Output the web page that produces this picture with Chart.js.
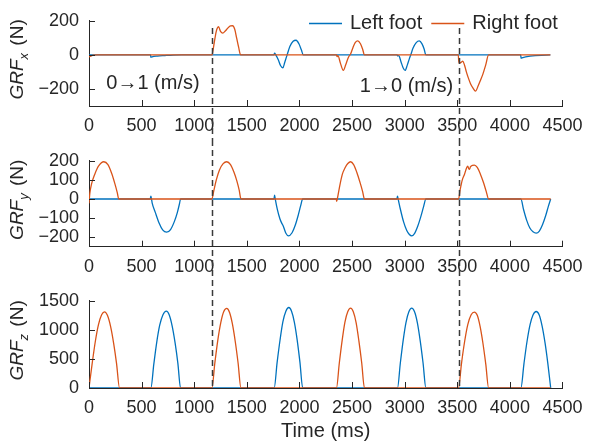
<!DOCTYPE html>
<html>
<head>
<meta charset="utf-8">
<script src="https://cdn.jsdelivr.net/npm/chart.js@4.4.1/dist/chart.umd.min.js"></script>
<style>
  html, body { margin: 0; padding: 0; background: #fff; }
  #wrap { position: relative; width: 592px; height: 447px; }
  #wrap canvas { position: absolute; left: 0; }
</style>
</head>
<body>
<div id="wrap">
  <canvas id="cx" width="592" height="140" style="top:0px"></canvas>
  <canvas id="cy" width="592" height="140" style="top:140px"></canvas>
  <canvas id="cz" width="592" height="167" style="top:280px"></canvas>
</div>
<script>
// ---- ground reaction forces, [time (ms), force (N)] ----
const seriesNames = ['Left foot', 'Right foot'];

const leftFx = [[0,0],[585,0],[588,-14],[600,-11],[650,-7],[720,-4],[800,-1],[880,0],
  [1758,0],[1764,10],[1775,0],[1800,-30],[1820,-62],[1843,-76],[1860,-45],[1883,0],[1910,50],[1940,80],[1968,86],[1995,65],[2018,30],[2036,0],
  [2928,0],[2934,-6],[2944,-4],[2965,-40],[2985,-75],[3004,-91],[3025,-60],[3045,-22],[3058,0],[3080,40],[3110,72],[3139,82],[3165,65],[3185,35],[3202,0],
  [4103,0],[4106,-20],[4115,-17],[4385,0]];

const rightFx = [[0,-12],[15,-8],[40,-2],[80,0],
  [1170,0],[1178,25],[1190,71],[1209,137],[1220,158],[1231,165],[1250,138],[1271,128],[1295,140],[1320,158],[1345,170],[1365,171],[1385,150],[1403,100],[1422,45],[1441,0],
  [2352,0],[2358,-10],[2366,-4],[2390,-50],[2417,-91],[2440,-58],[2465,-15],[2486,5],[2510,45],[2530,72],[2555,82],[2580,65],[2600,35],[2618,0],
  [3510,0],[3513,-30],[3520,-50],[3535,-44],[3553,-37],[3570,-62],[3585,-97],[3605,-135],[3626,-169],[3650,-195],[3673,-213],[3700,-180],[3720,-150],[3742,-116],[3770,-60],[3798,0],
  [4385,0]];

const leftFy = [[0,0],[582,0],[588,15],[594,0],[600,-20],[630,-70],[666,-126],[700,-162],[738,-174],[775,-160],[810,-120],[840,-70],[860,-25],[870,0],
  [1758,0],[1764,20],[1770,0],[1790,-55],[1815,-105],[1835,-130],[1845,-140],[1870,-178],[1896,-193],[1930,-177],[1960,-138],[1990,-82],[2012,-35],[2031,0],
  [2926,0],[2932,15],[2938,0],[2960,-55],[2990,-120],[3020,-165],[3045,-186],[3067,-193],[3095,-180],[3125,-142],[3155,-90],[3180,-40],[3202,0],
  [4105,0],[4130,-55],[4160,-112],[4190,-152],[4220,-172],[4250,-179],[4280,-168],[4310,-135],[4340,-88],[4365,-40],[4388,0]];

const rightFy = [[0,-23],[8,30],[25,80],[55,130],[90,172],[141,195],[180,180],[215,135],[245,82],[268,35],[283,0],
  [1168,0],[1185,40],[1210,100],[1240,152],[1275,185],[1309,195],[1345,180],[1378,140],[1405,95],[1428,45],[1444,0],
  [2350,0],[2354,-12],[2360,0],[2380,60],[2408,130],[2435,165],[2460,186],[2486,195],[2515,180],[2545,140],[2575,88],[2600,40],[2618,0],
  [3512,0],[3528,50],[3548,100],[3569,130],[3590,165],[3600,172],[3608,160],[3616,155],[3625,168],[3645,176],[3663,177],[3690,165],[3720,130],[3750,85],[3775,40],[3798,0],
  [4388,0]];

const leftFz = [[0,0],
  [588,0],[616,410],[644,790],[672,1080],[703,1260],[735,1322],[762,1260],[790,1070],[818,780],[845,420],[870,0],
  [1760,0],[1788,440],[1816,830],[1843,1140],[1871,1320],[1899,1385],[1925,1320],[1952,1130],[1979,820],[2005,440],[2031,0],
  [2932,0],[2959,430],[2986,820],[3013,1130],[3040,1310],[3067,1373],[3094,1310],[3121,1120],[3148,810],[3175,430],[3202,0],
  [4105,0],[4134,420],[4163,800],[4192,1090],[4221,1260],[4250,1316],[4278,1260],[4306,1070],[4334,780],[4361,420],[4388,0]];

const rightFz = [[0,0],[30,420],[60,800],[90,1090],[120,1260],[148,1310],[175,1250],[205,1060],[235,760],[262,420],[290,0],
  [1168,0],[1196,430],[1224,820],[1252,1120],[1280,1310],[1309,1368],[1336,1300],[1362,1110],[1390,800],[1417,430],[1444,0],
  [2352,0],[2379,430],[2406,820],[2432,1130],[2459,1310],[2486,1373],[2512,1310],[2539,1120],[2565,810],[2592,430],[2618,0],
  [3512,0],[3540,420],[3570,800],[3600,1090],[3632,1260],[3663,1305],[3690,1250],[3717,1060],[3744,770],[3771,410],[3798,0],
  [4388,0]];

// ---- axes ----
const timeTicks = [0, 500, 1000, 1500, 2000, 2500, 3000, 3500, 4000, 4500];
const fxTicks = [-200, 0, 200];
const fyTicks = [-200, -100, 0, 100, 200];
const fzTicks = [0, 500, 1000, 1500];

// speed transitions (ms) and their captions
const switchTimes = [1168, 3512];
const speedNotes = ['0\u21921 (m/s)', '1\u21920 (m/s)'];

// ---- styling ----
const INK = '#262626';
const BLUE = '#0072BD';
const ORANGE = '#D95319';
const FONT = '"Liberation Sans", Arial, Helvetica, sans-serif';

const fmt = v => (v < 0 ? '\u2212' + Math.abs(v) : String(v));

function drawYLabel(ctx, area, sub) {
  ctx.save();
  ctx.translate(22.5, (area.top + area.bottom) / 2 - 4);
  ctx.rotate(-Math.PI / 2);
  ctx.fillStyle = INK;
  ctx.textBaseline = 'alphabetic';
  const big = 'italic 19px ' + FONT, small = 'italic 13px ' + FONT, norm = '19px ' + FONT;
  ctx.font = big;   const w1 = ctx.measureText('GRF').width;
  ctx.font = small; const w2 = ctx.measureText(sub).width;
  ctx.font = norm;  const w3 = ctx.measureText(' (N)').width;
  const gap = 2;
  let x = -(w1 + w2 + gap + w3) / 2;
  ctx.font = big;   ctx.fillText('GRF', x, 0); x += w1;
  ctx.font = small; ctx.fillText(sub, x, 5); x += w2 + gap;
  ctx.font = norm;  ctx.fillText(' (N)', x, 0);
  ctx.restore();
}

// inward tick marks, y label, dashed transition lines, legend and captions
const decor = {
  id: 'decor',
  afterDraw(chart, args, o) {
    const { ctx, chartArea: a, scales: { x, y } } = chart;
    ctx.save();
    ctx.strokeStyle = INK;
    ctx.lineWidth = 1;
    ctx.beginPath();
    x.ticks.forEach(t => {
      const px = Math.round(x.getPixelForValue(t.value)) + 0.5;
      ctx.moveTo(px, a.bottom); ctx.lineTo(px, a.bottom - 6);
    });
    y.ticks.forEach(t => {
      const py = Math.round(y.getPixelForValue(t.value)) + 0.5;
      ctx.moveTo(a.left, py); ctx.lineTo(a.left + 6, py);
    });
    ctx.stroke();

    drawYLabel(ctx, a, o.sub);

    if (o.legend) {
      ctx.font = '20px ' + FONT;
      ctx.textBaseline = 'middle';
      ctx.textAlign = 'left';
      let lx = 309;
      const ly = 23.5;
      chart.data.datasets.slice().sort((p, q) => p.legendIndex - q.legendIndex).forEach(ds => {
        ctx.strokeStyle = ds.borderColor;
        ctx.lineWidth = 1.3;
        ctx.beginPath(); ctx.moveTo(lx, ly); ctx.lineTo(lx + 33, ly); ctx.stroke();
        ctx.fillStyle = INK;
        ctx.fillText(ds.label, lx + 41, ly);
        lx += 41 + ctx.measureText(ds.label).width + 9;
      });
    }

    if (o.notes) {
      ctx.font = '20px ' + FONT;
      ctx.textBaseline = 'middle';
      ctx.textAlign = 'left';
      ctx.fillStyle = INK;
      o.notes.forEach(n => ctx.fillText(n.text, x.getPixelForValue(n.t), y.getPixelForValue(n.v)));
    }

    ctx.strokeStyle = '#3a3a3a';
    ctx.lineWidth = 1.5;
    ctx.setLineDash([6, 4]);
    const y0 = o.dashTop != null ? o.dashTop : 0;
    const y1 = o.dashToArea ? a.bottom : chart.height;
    switchTimes.forEach(t => {
      const px = Math.round(x.getPixelForValue(t)) + 0.5;
      ctx.beginPath(); ctx.moveTo(px, y0); ctx.lineTo(px, y1); ctx.stroke();
    });
    ctx.restore();
  }
};

function makePanel(id, left, right, yMin, yMax, yTicks, sub, padTop, xHeight, extra) {
  const xScale = {
    type: 'linear', min: 0, max: 4500,
    afterBuildTicks: s => { s.ticks = timeTicks.map(v => ({ value: v })); },
    afterFit: s => { s.height = xHeight; },
    grid: { drawOnChartArea: false, drawTicks: false },
    border: { display: true, color: INK, width: 1 },
    ticks: { color: INK, font: { family: FONT, size: 18 }, padding: 9.5, autoSkip: false, maxRotation: 0, callback: fmt }
  };
  if (extra.xTitle) {
    xScale.title = { display: true, text: extra.xTitle, color: INK, font: { family: FONT, size: 20 }, padding: { top: 0, bottom: 4 } };
  }
  return new Chart(document.getElementById(id), {
    type: 'line',
    data: {
      datasets: [
        { label: seriesNames[1], data: right, borderColor: ORANGE, order: 0, legendIndex: 1 },
        { label: seriesNames[0], data: left, borderColor: BLUE, order: 1, legendIndex: 0 }
      ].map(d => Object.assign(d, { borderWidth: 1.3, pointRadius: 0, fill: false, cubicInterpolationMode: 'monotone' }))
    },
    options: {
      responsive: false,
      animation: false,
      devicePixelRatio: 1,
      layout: { padding: { left: 0, right: 25, top: padTop, bottom: 0 } },
      plugins: {
        legend: { display: false },
        tooltip: { enabled: false },
        decor: Object.assign({ sub }, extra)
      },
      scales: {
        x: xScale,
        y: {
          type: 'linear', min: yMin, max: yMax,
          afterBuildTicks: s => { s.ticks = yTicks.map(v => ({ value: v })); },
          afterFit: s => { s.width = 89; },
          grid: { drawOnChartArea: false, drawTicks: false },
          border: { display: true, color: INK, width: 1 },
          ticks: { color: INK, font: { family: FONT, size: 18 }, padding: 10, autoSkip: false, callback: fmt }
        }
      }
    },
    plugins: [decor]
  });
}

makePanel('cx', leftFx, rightFx, -300, 200, fxTicks, 'x', 17, 34, {
  legend: true,
  dashTop: 28,
  notes: [
    { t: 164, v: -169, text: speedNotes[0] },
    { t: 2574, v: -188, text: speedNotes[1] }
  ]
});
makePanel('cy', leftFy, rightFy, -250, 200, fyTicks, 'y', 18.7, 33.3, {});
makePanel('cz', leftFz, rightFz, 0, 1500, fzTicks, 'z', 20.5, 59, { dashToArea: true, xTitle: 'Time (ms)' });
</script>
</body>
</html>
